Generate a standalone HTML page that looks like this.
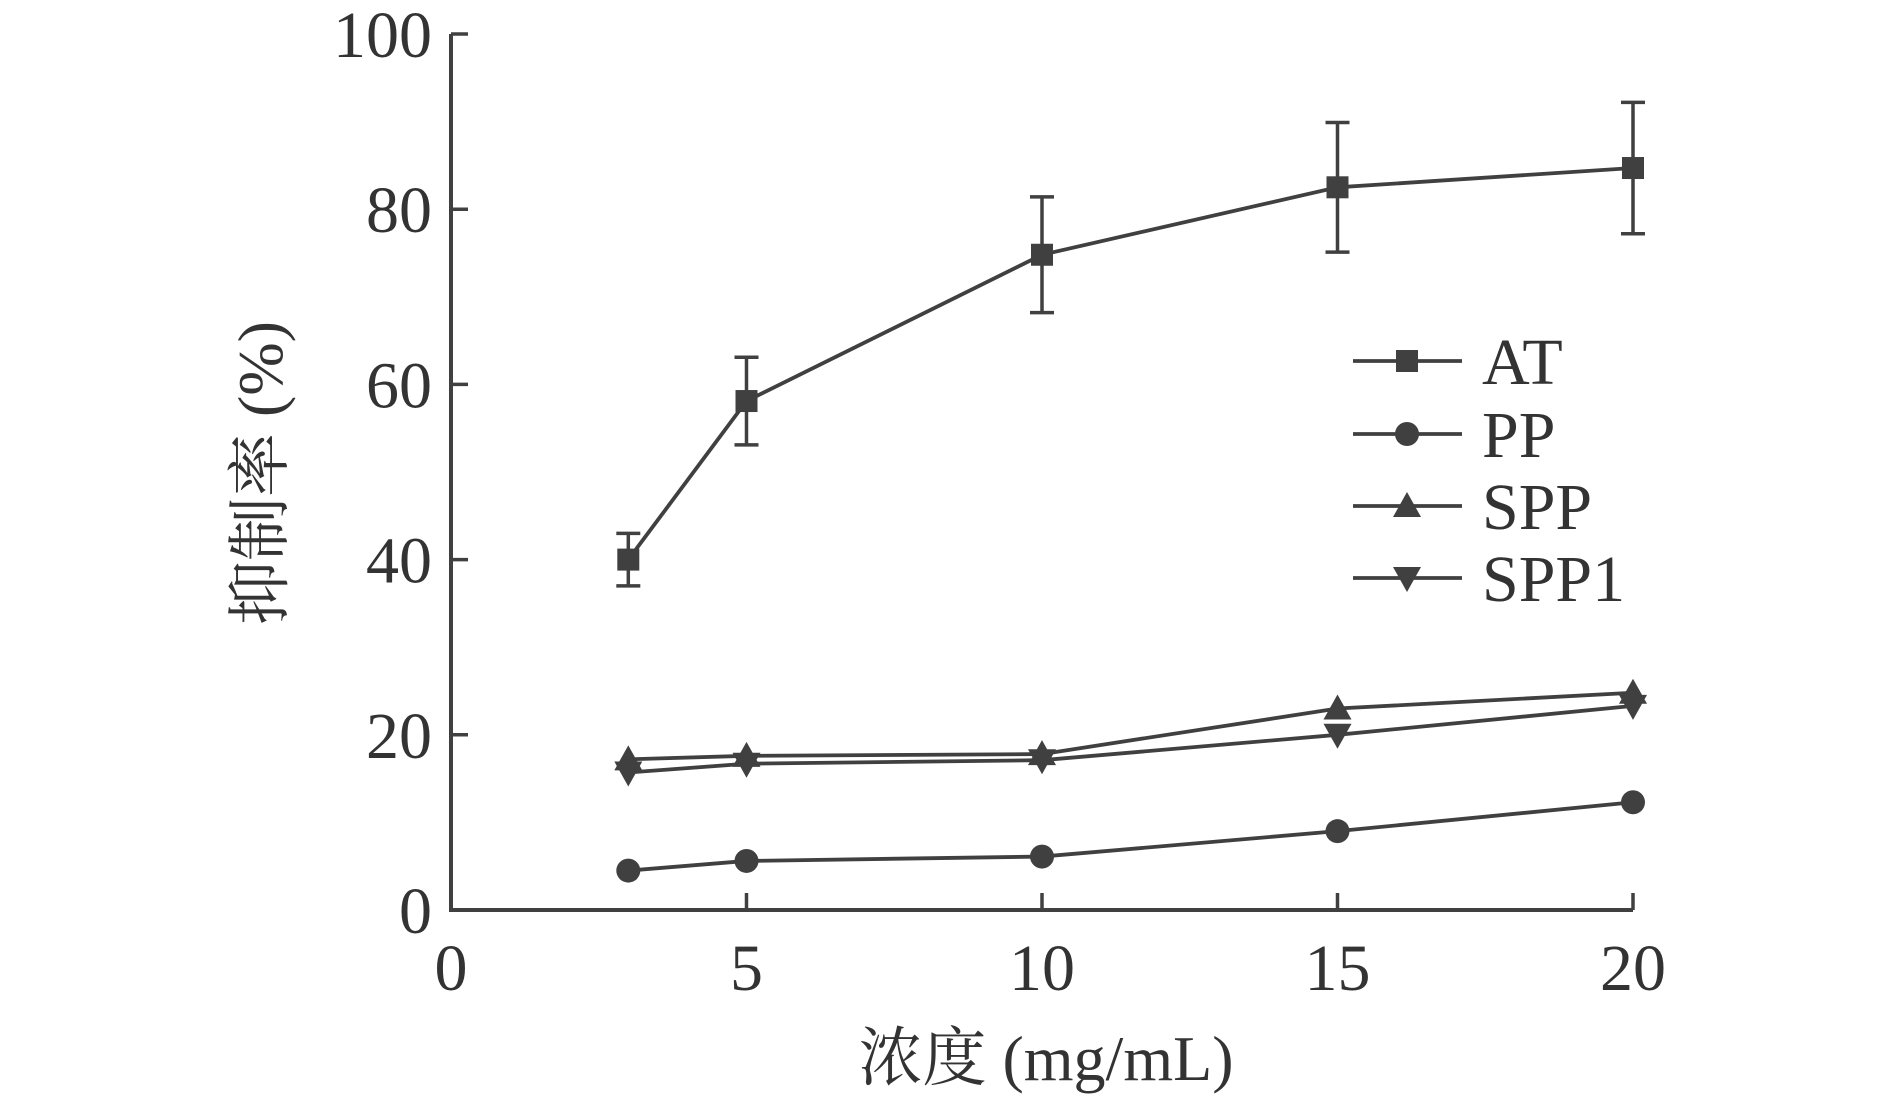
<!DOCTYPE html>
<html><head><meta charset="utf-8"><style>
body{margin:0;background:#fff}
text{font-family:"Liberation Serif","Noto Serif CJK SC",serif;fill:#333}
</style></head><body>
<svg id="chart" width="1890" height="1096" viewBox="0 0 1890 1096" xmlns="http://www.w3.org/2000/svg"></svg>
<script>
const xCats=[3,5,10,15,20];
const atVals=[40,58.1,74.8,82.5,84.7];
const atErr=[3,5,6.6,7.4,7.5];
const ppVals=[4.5,5.6,6.1,9,12.3];
const sppVals=[17.2,17.6,17.8,23,24.8];
const spp1Vals=[15.7,16.7,17.1,20,23.3];
const xTicks=[0,5,10,15,20];
const yTicks=[0,20,40,60,80,100];
const seriesNames=["AT","PP","SPP","SPP1"];

const NS="http://www.w3.org/2000/svg";
const svg=document.getElementById('chart');
const C='#404040';
function sx(v){return 451+v*(1633-451)/20;}
function sy(v){return 910-v*(910-34)/100;}
function el(tag,attrs,parent){const e=document.createElementNS(NS,tag);for(const k in attrs)e.setAttribute(k,attrs[k]);(parent||svg).appendChild(e);return e;}

let a=el('path',{d:`M${sx(0)},${sy(100)} L${sx(0)},${sy(0)} L${sx(20)},${sy(0)}`,fill:'none',stroke:C,'stroke-width':4});


yTicks.forEach(t=>{
  const l=el('line',{x1:sx(0),x2:sx(0)+17,y1:sy(t),y2:sy(t),stroke:C,'stroke-width':3.5});
  
  
  const tx=el('text',{x:432,y:sy(t)+23,'text-anchor':'end','font-size':66});
  tx.textContent=t;
  
  
});
xTicks.forEach(t=>{
  const l=el('line',{x1:sx(t),x2:sx(t),y1:sy(0),y2:sy(0)-17,stroke:C,'stroke-width':3.5});
  
  
  const tx=el('text',{x:sx(t),y:990,'text-anchor':'middle','font-size':66});
  tx.textContent=t;
  
  
});
let xt=el('text',{x:1046,y:1080,'text-anchor':'middle','font-size':64});
xt.textContent='浓度 (mg/mL)';


let yt=el('text',{x:0,y:0,'text-anchor':'middle','font-size':64,transform:'translate(282,473) rotate(-90)'});
yt.textContent='抑制率 (%)';



function marker(type,x,y,g){
  if(type==0) return el('rect',{x:x-11,y:y-11,width:22,height:22,fill:C},g);
  if(type==1) return el('circle',{cx:x,cy:y,r:12,fill:C},g);
  if(type==2) return el('path',{d:`M${x},${y-14} L${x+14},${y+11} L${x-14},${y+11}Z`,fill:C},g);
  return el('path',{d:`M${x},${y+14} L${x+14},${y-11} L${x-14},${y-11}Z`,fill:C},g);
}
xCats.forEach((c,i)=>{
  const g=el('g',{});
  
  
  const x=sx(c),y1=sy(atVals[i]+atErr[i]),y2=sy(atVals[i]-atErr[i]);
  el('line',{x1:x,x2:x,y1:y1,y2:y2,stroke:C,'stroke-width':3.5},g);
  el('line',{x1:x-12,x2:x+12,y1:y1,y2:y1,stroke:C,'stroke-width':3.5},g);
  el('line',{x1:x-12,x2:x+12,y1:y2,y2:y2,stroke:C,'stroke-width':3.5},g);
});
const allSeries=[atVals,ppVals,sppVals,spp1Vals];
allSeries.forEach((vals,s)=>{
  const g=el('g',{});
  
  
  el('polyline',{points:xCats.map((c,i)=>sx(c)+','+sy(vals[i])).join(' '),fill:'none',stroke:C,'stroke-width':3.8},g);
  xCats.forEach((c,i)=>{
    const m=marker(s,sx(c),sy(vals[i]),g);
    
    
  });
});
const legY=[361,434,506,578];
seriesNames.forEach((n,s)=>{
  const g=el('g',{});
  
  
  el('line',{x1:1353,x2:1462,y1:legY[s],y2:legY[s],stroke:C,'stroke-width':3.8},g);
  marker(s,1407,legY[s],g);
  const t=el('text',{x:1482,y:legY[s]+23,'font-size':66},g);
  t.textContent=n;
});
</script>
</body></html>
